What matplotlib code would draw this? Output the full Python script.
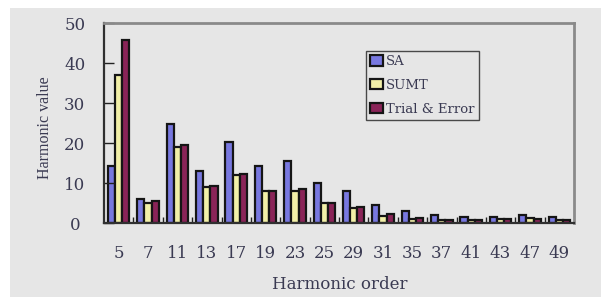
import numpy as np
import matplotlib
matplotlib.use("Agg")
import matplotlib.pyplot as plt
from matplotlib.patches import Rectangle

# harmonic orders and values for each method
orders = ["5", "7", "11", "13", "17", "19", "23", "25", "29", "31", "35", "37", "41", "43", "47", "49"]
sa = [14.3, 6.0, 24.7, 13.1, 20.2, 14.3, 15.4, 10.1, 7.9, 4.4, 2.9, 2.0, 1.4, 1.4, 1.9, 1.4]
sumt = [37.0, 5.0, 19.1, 9.0, 11.9, 8.1, 8.1, 5.1, 3.8, 1.7, 1.0, 0.7, 0.8, 0.9, 1.3, 0.8]
trial = [45.7, 5.6, 19.4, 9.3, 12.3, 8.1, 8.4, 5.1, 4.0, 2.3, 1.25, 0.8, 0.8, 0.9, 1.0, 0.8]

# the source picture is stretched sideways, so the wider DejaVu Serif fits horizontal text better
plt.rcParams["font.family"] = ["DejaVu Serif"]
txt = "#3a3a52"
bg = "#e6e6e6"

fig = plt.figure(figsize=(6.01, 3.0), dpi=100, facecolor="white")
# gray panel behind the chart (white strip at left, top and bottom)
fig.patches.append(Rectangle((10 / 601, 3 / 300), 1, 1 - 11 / 300, transform=fig.transFigure,
                             facecolor=bg, edgecolor="none", zorder=-10))
ax = fig.add_axes([104 / 601, 1 - 223 / 300, 470 / 601, 200 / 300])
ax.set_facecolor(bg)

x = np.arange(len(orders))
w = 0.245
kw = dict(width=w, edgecolor="#151515", linewidth=1.6)
ax.bar(x - w, sa, color="#7878e0", label="SA", **kw)
ax.bar(x, sumt, color="#f2f0a8", label="SUMT", **kw)
ax.bar(x + w, trial, color="#8a2458", label="Trial & Error", **kw)

ax.set_xlim(-0.5, len(orders) - 0.5)
ax.set_ylim(0, 50)
ax.set_yticks(range(0, 51, 10))
ax.set_xticks(x)
ax.set_xticklabels(orders)
ax.set_xticks(x[:-1] + 0.5, minor=True)
ax.tick_params(axis="x", which="major", length=0, pad=16, labelsize=12, labelcolor=txt)
ax.tick_params(axis="x", which="minor", direction="in", length=4, width=1, color="#222222")
ax.tick_params(axis="y", direction="in", length=7, width=1, color="#222222",
               labelsize=12, labelcolor=txt, pad=21)
for lab in ax.get_yticklabels():
    lab.set_horizontalalignment("center")

for side in ("top", "right"):
    ax.spines[side].set_color("#8a8a8a")
    ax.spines[side].set_linewidth(2)
for side in ("left", "bottom"):
    ax.spines[side].set_color("#303030")
    ax.spines[side].set_linewidth(1.6)

ax.set_xlabel("Harmonic order", fontsize=12, color=txt)
ax.xaxis.set_label_coords(0.502, -0.265)
ax.set_ylabel("Harmonic value", fontsize=11.5, color=txt, family="Liberation Serif")
ax.yaxis.set_label_coords(-0.108, 0.478)

leg = ax.legend(loc="upper left", bbox_to_anchor=(0.557, 0.862), fontsize=9.5,
                frameon=True, fancybox=False, handlelength=1.0, handleheight=0.85,
                handletextpad=0.2, labelspacing=0.83, borderpad=0.32, borderaxespad=0)
leg.get_frame().set_edgecolor("#222222")
leg.get_frame().set_facecolor(bg)
leg.get_frame().set_linewidth(1)
for t in leg.get_texts():
    t.set_color(txt)

fig.savefig("out.png", dpi=100, facecolor="white")
